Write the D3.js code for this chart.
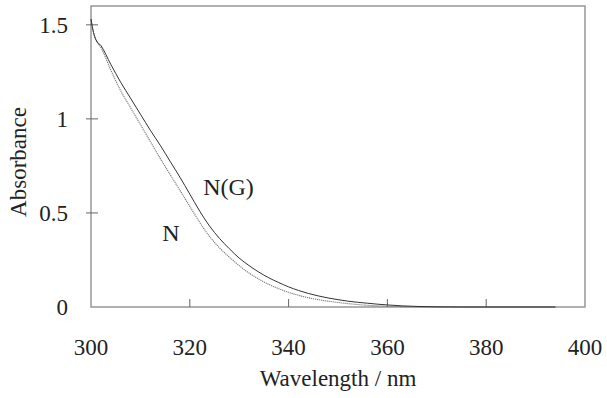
<!DOCTYPE html>
<html>
<head>
<meta charset="utf-8">
<script src="https://cdn.jsdelivr.net/npm/d3@7"></script>
<style>
  html, body { margin: 0; padding: 0; background: #fff; }
  svg { display: block; }
  text { font-family: "Liberation Serif", "DejaVu Serif", serif; fill: #222; }
</style>
</head>
<body>
<div id="chart"></div>
<script>
// Absorbance spectra
const wavelengths = [300, 300.5, 301, 302, 304, 306, 308, 310, 312, 314, 316, 318, 320, 322, 324, 326, 328, 330,
  332, 334, 336, 338, 340, 342, 344, 346, 348, 350, 352, 354, 356, 358, 360, 363, 366, 370, 375, 385, 394];
const absNG = [1.53, 1.46, 1.42, 1.39, 1.29, 1.195, 1.11, 1.025, 0.94, 0.86, 0.775, 0.69, 0.60, 0.51, 0.43, 0.365, 0.31, 0.26,
  0.22, 0.185, 0.155, 0.13, 0.107, 0.088, 0.072, 0.059, 0.048, 0.039, 0.031, 0.025, 0.02, 0.015, 0.011, 0.006, 0.003, 0.001, 0, 0, 0];
const absN = [1.53, 1.46, 1.42, 1.38, 1.26, 1.15, 1.06, 0.97, 0.88, 0.79, 0.705, 0.62, 0.535, 0.45, 0.375, 0.315, 0.265, 0.22,
  0.18, 0.148, 0.12, 0.097, 0.078, 0.062, 0.049, 0.039, 0.031, 0.024, 0.018, 0.013, 0.009, 0.006, 0.004, 0.002, 0.001, 0, 0, 0, 0];

const xTickLabels = [300, 320, 340, 360, 380, 400];
const xTickMarks  = [320, 340, 360, 380];
const yTicks      = [0.5, 1, 1.5];
const yTickLabels = [0, 0.5, 1, 1.5];

const W = 607, H = 398;
const margin = { top: 6, right: 22, bottom: 91, left: 91 };

const svg = d3.select('#chart').append('svg')
  .attr('width', W).attr('height', H);

const x = d3.scaleLinear().domain([300, 400]).range([margin.left, W - margin.right]);
const y = d3.scaleLinear().domain([0, 1.6]).range([H - margin.bottom, margin.top]);

// Frame
svg.append('rect')
  .attr('x', x(300)).attr('y', y(1.6))
  .attr('width', x(400) - x(300)).attr('height', y(0) - y(1.6))
  .attr('fill', 'none').attr('stroke', '#888').attr('stroke-width', 1.3);

// Tick marks
svg.selectAll('.xtick').data(xTickMarks).join('line')
  .attr('x1', d => x(d)).attr('x2', d => x(d))
  .attr('y1', y(0)).attr('y2', y(0) - 8)
  .attr('stroke', '#666').attr('stroke-width', 1);

svg.selectAll('.ytick').data(yTicks).join('line')
  .attr('x1', x(300) - 5).attr('x2', x(300) + 7)
  .attr('y1', d => y(d)).attr('y2', d => y(d))
  .attr('stroke', '#666').attr('stroke-width', 1);

// Tick labels
svg.selectAll('.xlab').data(xTickLabels).join('text')
  .attr('x', d => x(d)).attr('y', 355)
  .attr('text-anchor', 'middle').attr('font-size', 23)
  .text(d => d);

svg.selectAll('.ylab').data(yTickLabels).join('text')
  .attr('x', 68).attr('y', d => y(d) + 8)
  .attr('text-anchor', 'end').attr('font-size', 23)
  .text(d => d);

// Axis titles
svg.append('text')
  .attr('x', (x(300) + x(400)) / 2).attr('y', 386)
  .attr('text-anchor', 'middle').attr('font-size', 23)
  .text('Wavelength / nm');

svg.append('text')
  .attr('transform', `translate(26,162) rotate(-90)`)
  .attr('text-anchor', 'middle').attr('font-size', 23)
  .text('Absorbance');

// Curves
const line = d3.line().curve(d3.curveMonotoneX);

svg.append('path')
  .datum(wavelengths.map((w, i) => [x(w), y(absN[i])]))
  .attr('d', line)
  .attr('fill', 'none').attr('stroke', '#777').attr('stroke-width', 1.1)
  .attr('stroke-dasharray', '1.2,0.8');

svg.append('path')
  .datum(wavelengths.map((w, i) => [x(w), y(absNG[i])]))
  .attr('d', line)
  .attr('fill', 'none').attr('stroke', '#333').attr('stroke-width', 1);

// Curve labels
svg.append('text').attr('x', x(322.7)).attr('y', y(0.596)).attr('font-size', 24).text('N(G)');
svg.append('text').attr('x', x(314.4)).attr('y', y(0.35)).attr('font-size', 24).text('N');
</script>
</body>
</html>
